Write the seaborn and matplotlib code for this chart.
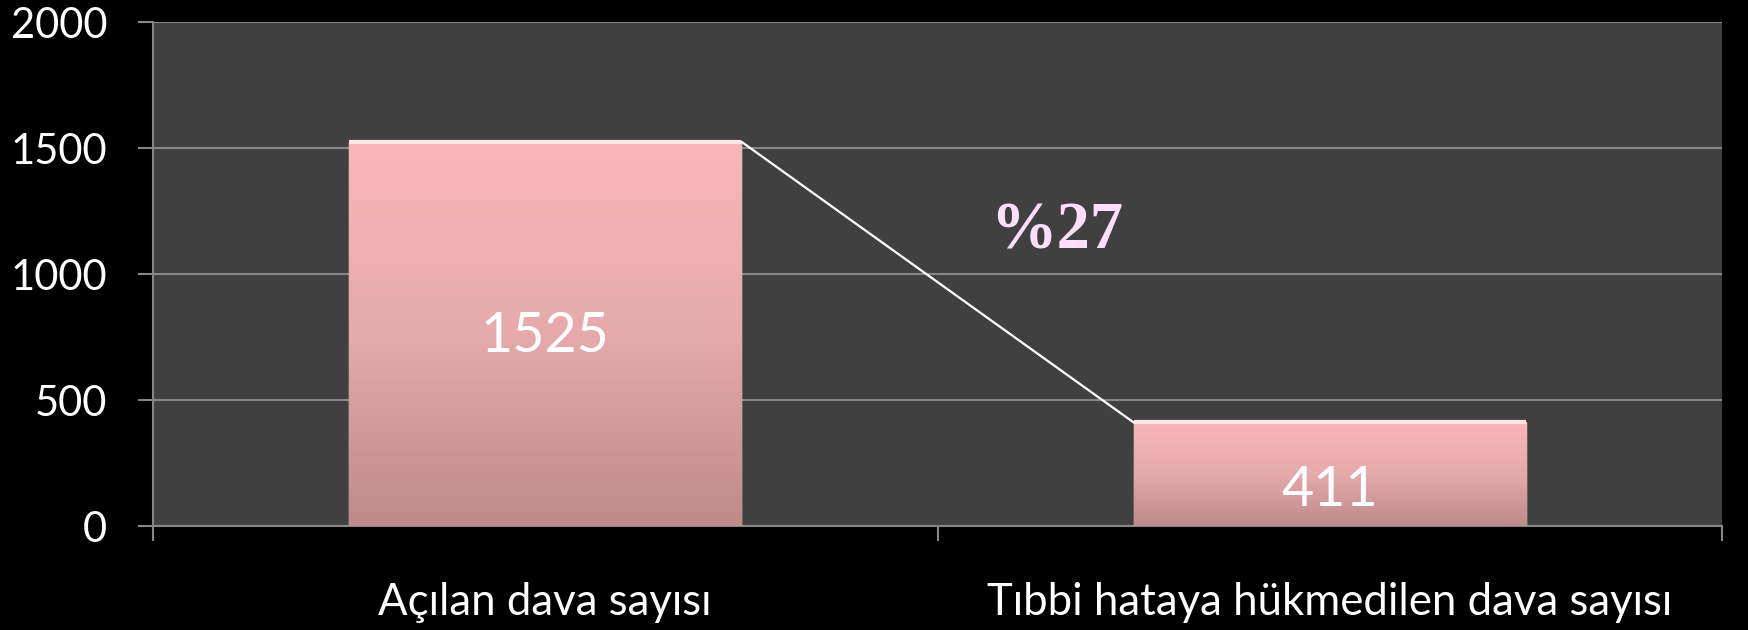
import numpy as np
import pandas as pd
import matplotlib.pyplot as plt
import seaborn as sns
from matplotlib.colors import LinearSegmentedColormap

# veriler
categories = ['Açılan dava sayısı', 'Tıbbi hataya hükmedilen dava sayısı']
values = [1525, 411]
percent_label = '%27'
y_ticks = [0, 500, 1000, 1500, 2000]

df = pd.DataFrame({'kategori': categories, 'sayi': values})

sns.set_style('dark')
plt.rcParams['font.family'] = ['Lato', 'DejaVu Sans']

grid_color = '#868686'

fig = plt.figure(figsize=(17.48, 6.3), dpi=100, facecolor='black')
ax = fig.add_axes([153 / 1748, 104 / 630, (1722 - 153) / 1748, (526 - 22) / 630])
ax.set_facecolor('#404040')

sns.barplot(data=df, x='kategori', y='sayi', ax=ax, width=0.5,
            color='#E0A6A6', saturation=1, zorder=3)

# pembe gradyan ve üst parlama
cmap = LinearSegmentedColormap.from_list('pembe', ['#F8B7B8', '#E6AAAA', '#BE8A8A'])
grad = np.linspace(0, 1, 256).reshape(-1, 1)
for p in ax.patches:
    x0, w, h = p.get_x(), p.get_width(), p.get_height()
    im = ax.imshow(grad, cmap=cmap, aspect='auto', origin='upper',
                   extent=[x0, x0 + w, 0, h], zorder=3.5)
    im.set_clip_path(p)
    ax.plot([x0, x0 + w], [h, h], color='#FFE6E6', lw=3, zorder=3.6,
            solid_capstyle='butt')

# çubuklar arası bağlantı çizgisi
b1, b2 = ax.patches[0], ax.patches[1]
ax.plot([b1.get_x() + b1.get_width(), b2.get_x()], [values[0], values[1]],
        color='white', lw=1.6, zorder=4)

# değer etiketleri
label_offsets = [-2, -12]
for i, v in enumerate(values):
    ax.annotate(str(v), (i, v / 2), xytext=(0, label_offsets[i]),
                textcoords='offset points', ha='center', va='center',
                color='white', fontsize=40, zorder=5)

ax.text(0.652, 1167, percent_label, ha='center', va='center',
        color='#FFDDFB', fontsize=48, fontweight='bold',
        fontfamily='Liberation Serif', zorder=5)

ax.set_xlim(-0.5, 1.5)
ax.set_ylim(0, 2000)
ax.set_yticks(y_ticks)
ax.yaxis.grid(True, color=grid_color, lw=1.5, zorder=1)
ax.xaxis.grid(False)
ax.set_axisbelow(True)

ax.set_xticks([-0.5, 0.5, 1.5])
ax.set_xticklabels([])
ax.set_xticks([0, 1], minor=True)
ax.set_xticklabels(categories, minor=True)
ax.tick_params(axis='x', which='major', bottom=True, length=11, width=1.5,
               color=grid_color, direction='out')
ax.tick_params(axis='x', which='minor', bottom=True, length=0, pad=40,
               labelsize=31.5, labelcolor='white')
ax.tick_params(axis='y', left=True, length=11, width=1.5, color=grid_color,
               direction='out', pad=22, labelsize=30, labelcolor='white')

ax.set_xlabel('')
ax.set_ylabel('')
for s in ['top', 'right']:
    ax.spines[s].set_visible(False)
for s in ['left', 'bottom']:
    ax.spines[s].set_visible(True)
    ax.spines[s].set_color(grid_color)
    ax.spines[s].set_linewidth(1.5)

fig.savefig('out.png', dpi=100, facecolor='black')
